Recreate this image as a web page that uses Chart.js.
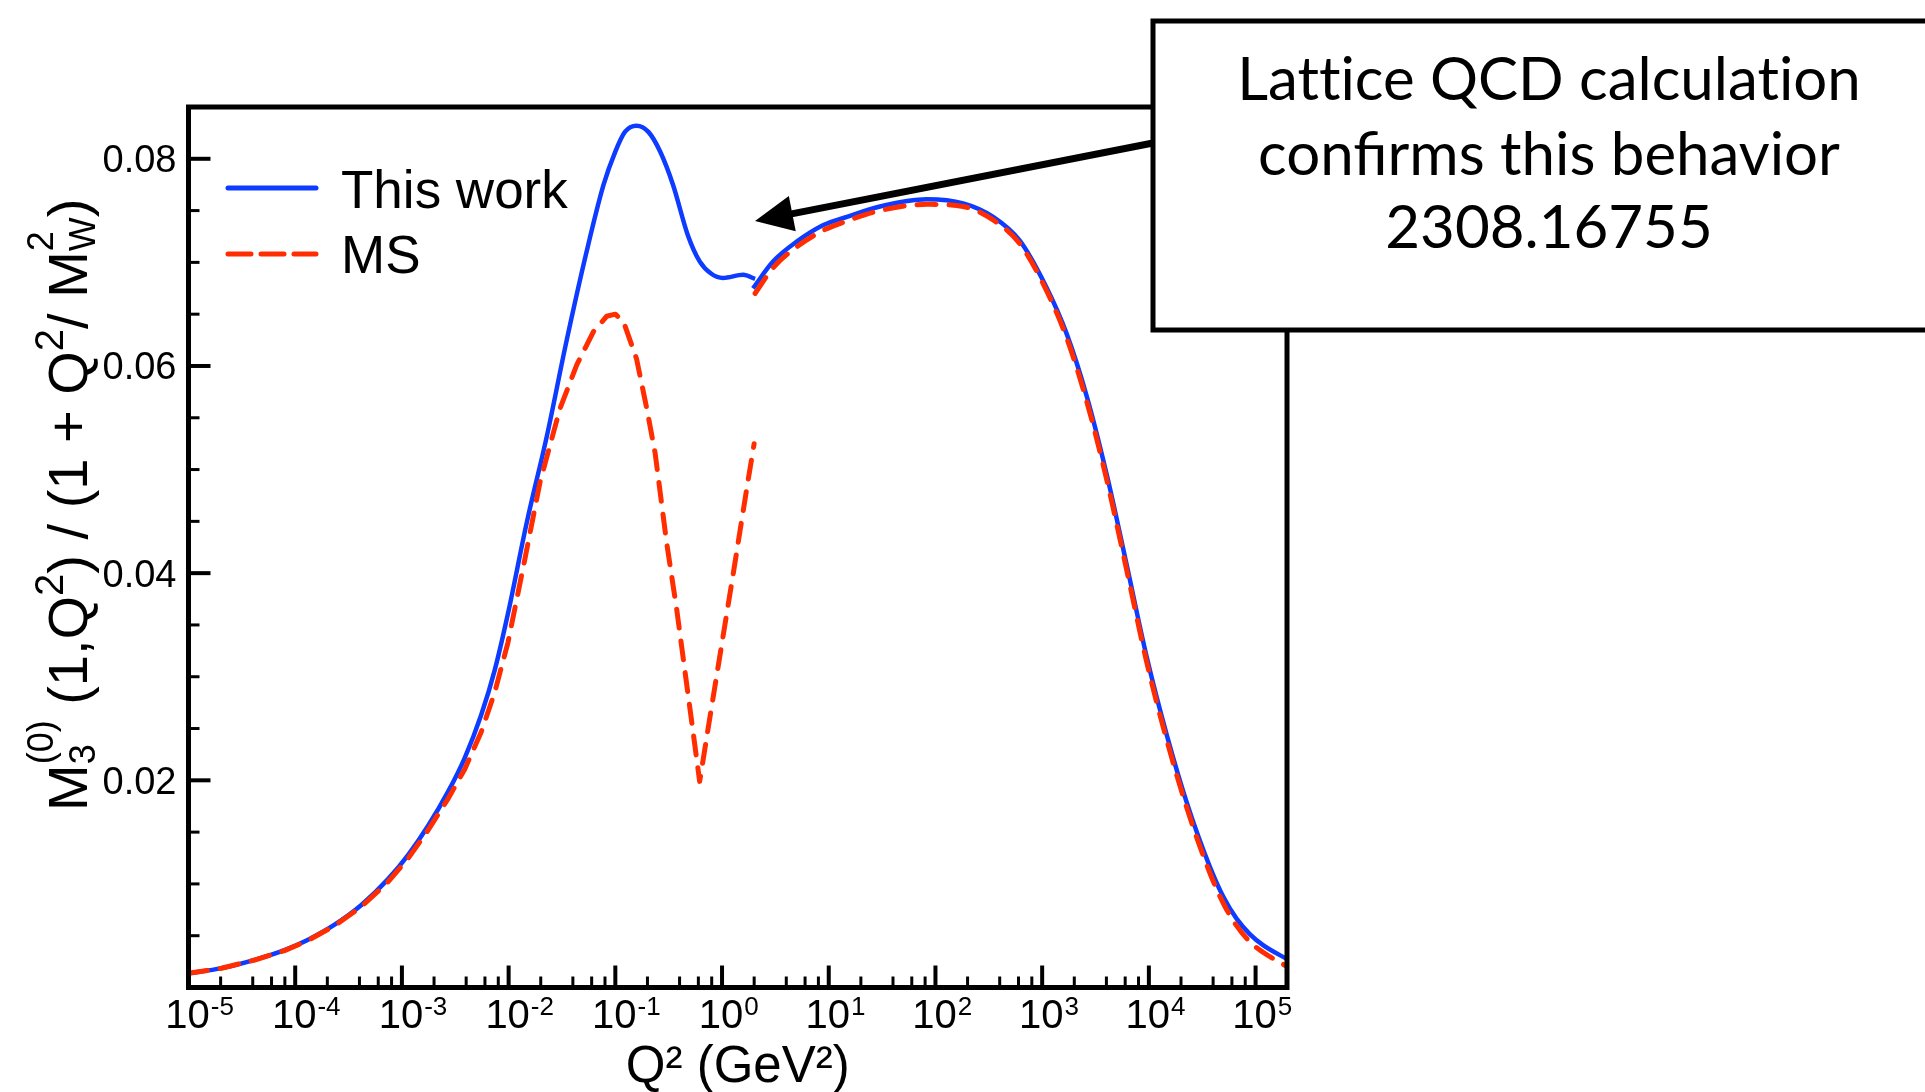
<!DOCTYPE html>
<html>
<head>
<meta charset="utf-8">
<script src="https://cdn.jsdelivr.net/npm/chart.js@4.4.0/dist/chart.umd.min.js"></script>
<style>
  html, body { margin: 0; padding: 0; background: #fff; }
  #wrap { width: 1925px; height: 1092px; }
</style>
</head>
<body>
<div id="wrap"><canvas id="myChart" width="1925" height="1092"></canvas></div>
<script>
// Q^2 in GeV^2
var q2WorkLow = [1e-5, 2.04e-5, 4.17e-5, 7.94e-5, 1.32e-4, 2.34e-4, 4.17e-4, 7.41e-4, 1.15e-3, 1.76e-3, 2.70e-3, 3.89e-3,
  5.55e-3, 7.41e-3, 9.86e-3, 1.48e-2, 2.29e-2, 3.47e-2, 5.37e-2, 7.76e-2, 0.1, 0.123, 0.158, 0.204, 0.263, 0.347, 0.479,
  0.617, 0.794, 1.02, 1.58, 2.04];
var m3WorkLow = [0.00137, 0.00187, 0.00267, 0.00360, 0.00461, 0.00606, 0.00796, 0.01046, 0.01283, 0.01561, 0.01888, 0.0222,
  0.02636, 0.03064, 0.0361, 0.0449, 0.0533, 0.0623, 0.0710, 0.0775, 0.0807, 0.0826, 0.0832, 0.0826, 0.0807, 0.0775, 0.0726,
  0.0701, 0.0689, 0.0685, 0.0688, 0.0684];

var q2WorkHigh = [1.95, 3.02, 5.01, 8.91, 14.8, 30.2, 83.2, 182, 347, 617, 1096, 1698, 2630, 4074, 6166,
  9550, 14790, 22910, 37150, 50000, 66070, 88720, 117500, 199500];
var m3WorkHigh = [0.0675, 0.0701, 0.0720, 0.0736, 0.0744, 0.0754, 0.0761, 0.0757, 0.0744, 0.0721, 0.0676, 0.0631, 0.0570, 0.0493, 0.0409,
  0.0319, 0.0243, 0.0177, 0.0117, 0.00873, 0.00667, 0.00513, 0.00409, 0.00271];

var q2MsLow = [1e-5, 2.04e-5, 4.17e-5, 7.94e-5, 1.32e-4, 2.34e-4, 4.17e-4, 7.41e-4, 1.15e-3, 1.76e-3, 2.70e-3, 3.89e-3,
  5.55e-3, 7.41e-3, 9.86e-3, 1.41e-2, 1.97e-2, 3.03e-2, 4.35e-2, 6.22e-2, 8.30e-2, 0.1, 0.119, 0.158, 0.197, 0.236, 0.302,
  0.376, 0.473, 0.538, 0.617, 0.773, 1.0, 1.28, 1.70, 2.0];
var m3MsLow = [0.00137, 0.00186, 0.00265, 0.00356, 0.00455, 0.00596, 0.00780, 0.0102, 0.0125, 0.0152, 0.0182, 0.0211,
  0.0247, 0.0285, 0.0333, 0.0412, 0.0488, 0.0559, 0.0601, 0.0633, 0.0648, 0.0650, 0.0643, 0.0607, 0.0559, 0.0516, 0.0430,
  0.0365, 0.0288, 0.0245, 0.0199, 0.0262, 0.0333, 0.0401, 0.0481, 0.0525];

var q2MsHigh = [2.04, 3.02, 5.01, 8.91, 14.8, 30.2, 83.2, 182, 347, 617, 1096, 1698, 2630, 4074, 6166,
  9550, 14790, 22910, 37150, 50000, 66070, 88720, 117500, 199500];
var m3MsHigh = [0.0670, 0.0695, 0.0715, 0.0731, 0.0740, 0.0750, 0.0756, 0.0754, 0.0741, 0.0718, 0.0673, 0.0627, 0.0565, 0.0488, 0.0404,
  0.0314, 0.0238, 0.0172, 0.0111, 0.0081, 0.0060, 0.0044, 0.0034, 0.0020];

var xTickExps = [-5, -4, -3, -2, -1, 0, 1, 2, 3, 4, 5];
var xMinorMult = [2, 4, 6, 8];
var yTickValues = [0.02, 0.04, 0.06, 0.08];
// \u200c keeps Lato from joining "ti" into a ligature
var noteLines = ["Lat\u200ct\u200cice QCD calculat\u200cion", "confirms this behavior", "2308.16755"];

var BLUE = "#0d3bff";
var RED = "#ff2d00";
var HELV = '"Liberation Sans", Arial, Helvetica, sans-serif';

function pts(xs, ys) {
  return xs.map(function (x, i) { return { x: x, y: ys[i] }; });
}

var frameAndText = {
  id: "frameAndText",
  afterDraw: function (chart) {
    var ctx = chart.ctx;
    var a = chart.chartArea;
    var xs = chart.scales.x, ys = chart.scales.y;
    ctx.save();
    ctx.strokeStyle = "#000";
    ctx.fillStyle = "#000";

    // ticks (inward, left and bottom only)
    ctx.lineCap = "butt";
    for (var k = 1; k <= 16; k++) {
      var v = k * 0.005;
      var major = k % 4 == 0;
      var py = ys.getPixelForValue(v);
      ctx.lineWidth = major ? 4 : 3;
      ctx.beginPath();
      ctx.moveTo(a.left, py);
      ctx.lineTo(a.left + (major ? 22 : 11), py);
      ctx.stroke();
    }
    xTickExps.forEach(function (e) {
      var px = xs.getPixelForValue(Math.pow(10, e));
      ctx.lineWidth = 4;
      ctx.beginPath();
      ctx.moveTo(px, a.bottom);
      ctx.lineTo(px, a.bottom - 22);
      ctx.stroke();
      xMinorMult.forEach(function (m) {
        var val = m * Math.pow(10, e);
        if (val >= xs.max) return;
        var mx = xs.getPixelForValue(val);
        ctx.lineWidth = 3;
        ctx.beginPath();
        ctx.moveTo(mx, a.bottom);
        ctx.lineTo(mx, a.bottom - 11);
        ctx.stroke();
      });
    });

    // frame
    ctx.lineWidth = 5;
    ctx.strokeRect(a.left, a.top, a.right - a.left, a.bottom - a.top);

    // y tick labels
    ctx.font = "38px " + HELV;
    ctx.textAlign = "right";
    ctx.textBaseline = "alphabetic";
    yTickValues.forEach(function (v) {
      ctx.fillText(v.toFixed(2), a.left - 12, ys.getPixelForValue(v) + 13.5);
    });

    // x tick labels 10^n
    xTickExps.forEach(function (e) {
      var px = xs.getPixelForValue(Math.pow(10, e));
      ctx.font = "40px " + HELV;
      ctx.textAlign = "center";
      var w = ctx.measureText("10").width;
      ctx.fillText("10", px - 1, 1028);
      ctx.font = "26px " + HELV;
      ctx.textAlign = "left";
      ctx.fillText(String(e), px + w / 2, 1015);
    });

    // x title
    ctx.font = "51px " + HELV;
    ctx.textAlign = "center";
    ctx.fillText("Q\u00b2 (GeV\u00b2)", (a.left + a.right) / 2, 1082);

    // y title with sub/superscripts
    var F = 56, tx = 0;
    ctx.translate(87, 811);
    ctx.rotate(-Math.PI / 2);
    ctx.textAlign = "left";
    function main(t) {
      ctx.font = F + "px " + HELV;
      ctx.fillText(t, tx, 0);
      tx += ctx.measureText(t).width;
    }
    function script(sub, sup) {
      ctx.font = (sub ? 36 : 40) + "px " + HELV;
      var w = 0;
      if (sub) { ctx.fillText(sub, tx, 8); w = ctx.measureText(sub).width; }
      if (sup) { ctx.fillText(sup, tx, sub ? -34 : -24); w = Math.max(w, ctx.measureText(sup).width); }
      tx += w;
    }
    main("M"); script("3", "(0)"); main(" (1,Q"); script(null, "2");
    main(") / (1 + Q"); script(null, "2"); main("/ M"); script("W", "2"); main(")");
    ctx.setTransform(1, 0, 0, 1, 0, 0);

    // legend
    ctx.lineCap = "round";
    ctx.lineWidth = 5;
    ctx.strokeStyle = BLUE;
    ctx.beginPath(); ctx.moveTo(228, 188); ctx.lineTo(316, 188); ctx.stroke();
    ctx.strokeStyle = RED;
    ctx.setLineDash([23, 10]);
    ctx.beginPath(); ctx.moveTo(228, 254); ctx.lineTo(316, 254); ctx.stroke();
    ctx.setLineDash([]);
    ctx.font = "53px " + HELV;
    ctx.textAlign = "left";
    ctx.fillStyle = "#000";
    ctx.fillText(chart.data.datasets[0].label, 341, 208);
    ctx.fillText(chart.data.datasets[2].label, 341, 273);

    // note box
    ctx.fillStyle = "#fff";
    ctx.fillRect(1153, 21, 800, 309);
    ctx.strokeStyle = "#000";
    ctx.lineWidth = 5;
    ctx.lineCap = "butt";
    ctx.strokeRect(1153, 21, 800, 309);
    ctx.fillStyle = "#000";
    ctx.font = '60px Lato, "Open Sans", sans-serif';
    ctx.textAlign = "center";
    var base = [100, 175, 248];
    noteLines.forEach(function (t, i) { ctx.fillText(t, 1549, base[i]); });

    // arrow
    var sx = 1153, sy = 143, tipX = 755, tipY = 221;
    var dx = tipX - sx, dy = tipY - sy, len = Math.sqrt(dx * dx + dy * dy);
    var ux = dx / len, uy = dy / len;
    var bx = tipX - ux * 38, by = tipY - uy * 38;
    ctx.lineWidth = 7;
    ctx.beginPath(); ctx.moveTo(sx, sy); ctx.lineTo(bx + ux * 2, by + uy * 2); ctx.stroke();
    ctx.beginPath();
    ctx.moveTo(tipX, tipY);
    ctx.lineTo(bx - uy * 18, by + ux * 18);
    ctx.lineTo(bx + uy * 18, by - ux * 18);
    ctx.closePath();
    ctx.fill();
    ctx.restore();
  },
};

var chart = new Chart(document.getElementById("myChart"), {
  type: "line",
  data: {
    datasets: [
      { label: "This work", data: pts(q2WorkLow, m3WorkLow), borderColor: BLUE, borderWidth: 4.5,
        cubicInterpolationMode: "monotone", order: 2 },
      { label: "This work (high)", data: pts(q2WorkHigh, m3WorkHigh), borderColor: BLUE, borderWidth: 4.5,
        cubicInterpolationMode: "monotone", order: 2 },
      { label: "MS", data: pts(q2MsLow, m3MsLow), borderColor: RED, borderWidth: 5,
        borderDash: [19, 13], borderCapStyle: "round", borderJoinStyle: "round", tension: 0, order: 1 },
      { label: "MS (high)", data: pts(q2MsHigh, m3MsHigh), borderColor: RED, borderWidth: 5,
        borderDash: [19, 13], borderCapStyle: "round", borderJoinStyle: "round",
        cubicInterpolationMode: "monotone", order: 1 },
    ],
  },
  options: {
    responsive: false,
    animation: false,
    layout: { padding: { left: 188.5, right: 638, top: 107, bottom: 104.5 } },
    elements: { point: { radius: 0 }, line: { fill: false } },
    scales: {
      x: { type: "logarithmic", min: 1e-5, max: 1.97e5, display: false },
      y: { type: "linear", min: 0, max: 0.085, display: false },
    },
    plugins: { legend: { display: false }, tooltip: { enabled: false } },
  },
  plugins: [frameAndText],
});
</script>
</body>
</html>
